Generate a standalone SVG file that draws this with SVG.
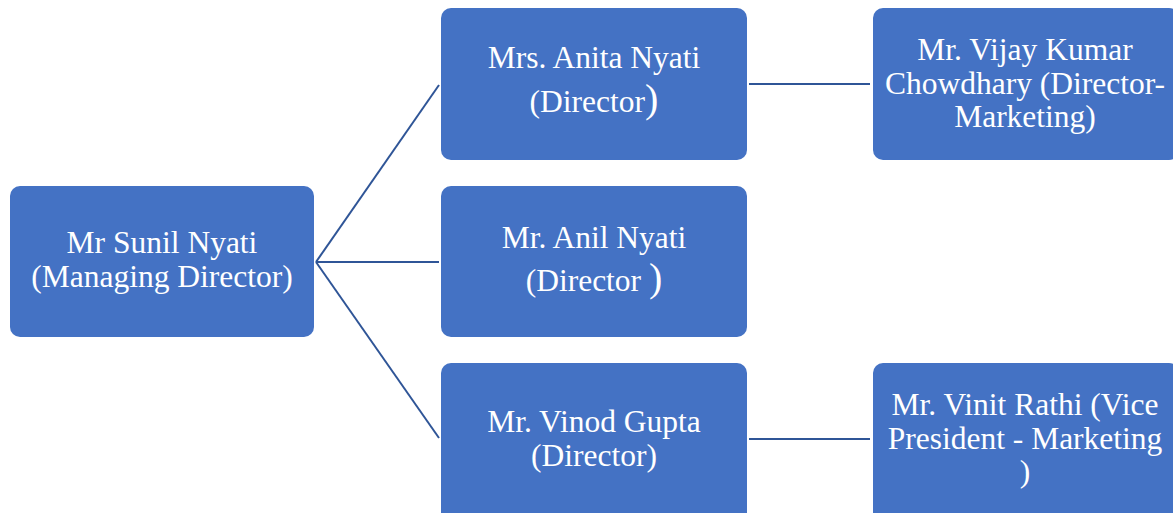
<svg xmlns="http://www.w3.org/2000/svg" width="1173" height="513" viewBox="0 0 1173 513">
<style>
.box{fill:#4472C4;}
.t{font-size:31.5px;fill:#FFFFFF;text-anchor:middle;}
.big{font-size:40px;}
.conn line{stroke:#2F5597;stroke-width:2;fill:none;}
</style>
<rect width="1173" height="513" fill="#FFFFFF"/>
<g id="connectors" class="conn">
<line x1="316" y1="262" x2="439" y2="85"/>
<line x1="316" y1="262" x2="439" y2="262"/>
<line x1="316" y1="262" x2="439" y2="438"/>
<line x1="749" y1="84" x2="870" y2="84"/>
<line x1="749" y1="439" x2="870" y2="439"/>
</g>
<g id="sunil">
<rect class="box" x="10" y="186" width="304" height="151" rx="10"/>
<text class="t" style="font-family:'Liberation Serif',serif" x="162" y="253">Mr Sunil Nyati</text>
<text class="t" style="font-family:'Liberation Serif',serif" x="162" y="287">(Managing Director)</text>
</g>
<g id="anita">
<rect class="box" x="441" y="8" width="306" height="152" rx="10"/>
<text class="t" style="font-family:'Liberation Serif',serif" x="594" y="68">Mrs. Anita Nyati</text>
<text class="t" style="font-family:'Liberation Serif',serif" x="594" y="112">(Director<tspan class="big">)</tspan></text>
</g>
<g id="anil">
<rect class="box" x="441" y="186" width="306" height="151" rx="10"/>
<text class="t" style="font-family:'Liberation Serif',serif" x="594" y="248">Mr. Anil Nyati</text>
<text class="t" style="font-family:'Liberation Serif',serif" x="594" y="291">(Director <tspan class="big">)</tspan></text>
</g>
<g id="vinod">
<rect class="box" x="441" y="363" width="306" height="160" rx="10"/>
<text class="t" style="font-family:'Liberation Serif',serif" x="594" y="432">Mr. Vinod Gupta</text>
<text class="t" style="font-family:'Liberation Serif',serif" x="594" y="466">(Director)</text>
</g>
<g id="vijay">
<rect class="box" x="873" y="8" width="306" height="152" rx="10"/>
<text class="t" style="font-family:'Liberation Serif',serif" x="1025" y="60">Mr. Vijay Kumar</text>
<text class="t" style="font-family:'Liberation Serif',serif" x="1025" y="94">Chowdhary (Director-</text>
<text class="t" style="font-family:'Liberation Serif',serif" x="1025" y="127">Marketing)</text>
</g>
<g id="vinit">
<rect class="box" x="873" y="363" width="306" height="160" rx="10"/>
<text class="t" style="font-family:'Liberation Serif',serif" x="1025" y="415">Mr. Vinit Rathi (Vice</text>
<text class="t" style="font-family:'Liberation Serif',serif" x="1025" y="449">President - Marketing</text>
<text class="t" style="font-family:'Liberation Serif',serif" x="1025" y="482">)</text>
</g>
</svg>
